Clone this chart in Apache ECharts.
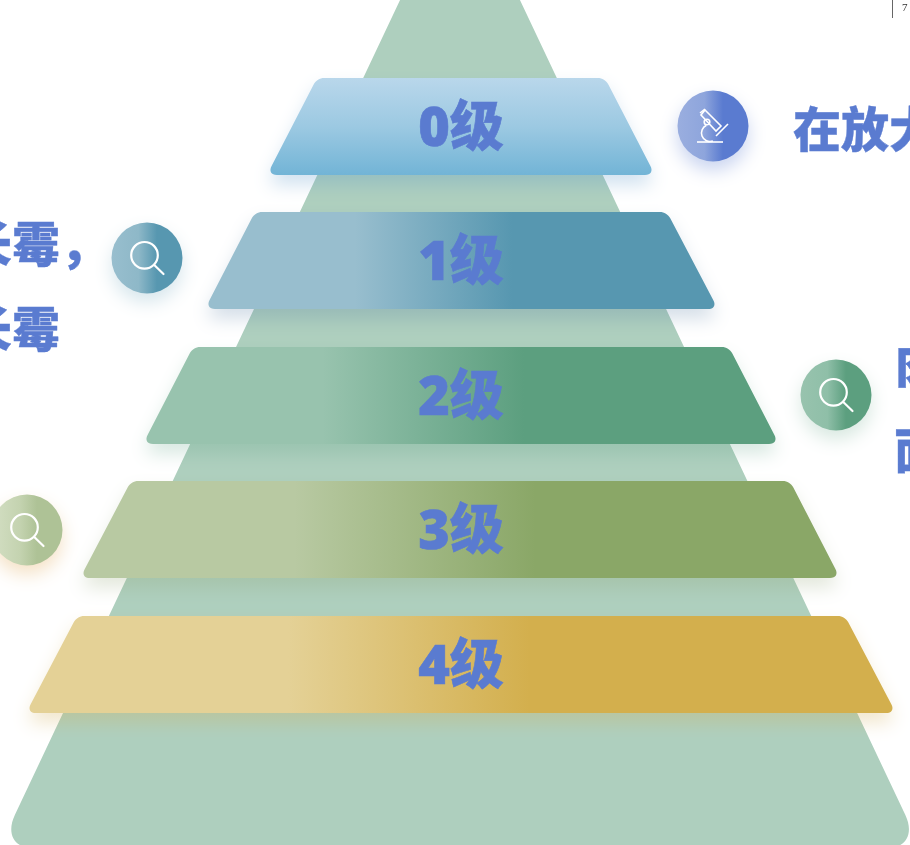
<!DOCTYPE html>
<html><head><meta charset="utf-8">
<style>html,body{margin:0;padding:0;background:#fff;overflow:hidden}#c{width:910px;height:845px}</style>
<script src="https://cdn.jsdelivr.net/npm/echarts@6/dist/echarts.min.js"></script></head>
<body><div id="c"></div>
<script>
// Pyramid tiers, read in page units
const levelNames = ['0级','1级','2级','3级','4级'];
const tierLeftTop = [317,255,193,131,77];
const tierRightTop = [605,667,729,790,845];
const tierLeftBottom = [267,205,143,80,26];
const tierRightBottom = [655,718,779,840,896];
const tierTop = [78,212,347,481,616];
const tierBottom = [175,309,444,578,713];
// Backdrop trapezoid
const backdropY = [-2,849];
const backdropLeft = [401,-1.3];
const backdropRight = [519,921.5];
// Round badges
const badgeKinds = ['scope','lens','lens','lens'];
const badgeX = [713,147,836,27];
const badgeY = [126,258,395,530];
// Side notes (clipped by the page edge as in the reference)
const noteTexts = ['在放大','长霉，','长霉','肉','面'];
const noteX = [793,-36,-36,895,894];
const noteY = [129,244,329,365,450];

const BLUE = '#5a7bd0', FONT = '"Open Sans","Noto Sans CJK SC",sans-serif';
const tierFill = [
  null,
  [[0,'#98bece'],[.29,'#98bece'],[.6,'#5797b0'],[1,'#5797b0']],
  [[0,'#98c3ae'],[.28,'#98c3ae'],[.6,'#5c9f7f'],[1,'#5c9f7f']],
  [[0,'#b8c9a2'],[.28,'#b8c9a2'],[.6,'#8aa767'],[1,'#8aa767']],
  [[0,'#e4d196'],[.3,'#e4d196'],[.58,'#d3af4d'],[1,'#d3af4d']]
];
const tierShadow = ['rgba(90,150,200,.28)','rgba(80,120,160,.24)','rgba(90,160,130,.24)','rgba(140,160,110,.24)','rgba(210,175,90,.3)'];
const badgeFill = [
  [[0,'#9aaedf'],[.38,'#8ea5dc'],[.64,'#5a7bd0'],[1,'#5a7bd0']],
  [[0,'#98bece'],[.38,'#8eb8c8'],[.64,'#5797b0'],[1,'#5797b0']],
  [[0,'#98c3ae'],[.38,'#8fbfa8'],[.64,'#5c9f7f'],[1,'#5c9f7f']],
  [[0,'#d4dfc4'],[.4,'#c4d3b0'],[.64,'#aec296'],[1,'#aec296']]
];
const badgeShadow = ['rgba(90,123,208,.32)','rgba(87,151,176,.24)','rgba(92,159,127,.24)','rgba(225,170,90,.34)'];

function toward(p,q,r){
  const dx=q[0]-p[0],dy=q[1]-p[1],l=Math.hypot(dx,dy)||1;
  return [p[0]+dx/l*r,p[1]+dy/l*r];
}
echarts.graphic.registerShape('trap', echarts.graphic.extendShape({
  type:'trap',
  shape:{lt:0,rt:0,lb:0,rb:0,t:0,b:0,rTop:0,rBottom:0},
  buildPath(ctx,s){
    const P=[[s.lt,s.t],[s.rt,s.t],[s.rb,s.b],[s.lb,s.b]];
    const R=[s.rTop,s.rTop,s.rBottom,s.rBottom], k=.58;
    P.forEach((c,i)=>{
      const a=toward(c,P[(i+3)%4],R[i]),b=toward(c,P[(i+1)%4],R[i]);
      if(i===0)ctx.moveTo(a[0],a[1]);else ctx.lineTo(a[0],a[1]);
      ctx.bezierCurveTo(a[0]+(c[0]-a[0])*k,a[1]+(c[1]-a[1])*k,b[0]+(c[0]-b[0])*k,b[1]+(c[1]-b[1])*k,b[0],b[1]);
    });
    ctx.closePath();
  }
}));

function grad(stops,v){
  const cs=stops.map(s=>({offset:s[0],color:s[1]}));
  return new echarts.graphic.LinearGradient(0,0,v?0:1,v?1:0,cs);
}
function pt(api,x,y){return api.coord([x,y]);}

function lensIcon(){
  const st={stroke:'#fff',lineWidth:2.2,fill:'none'};
  return [
    {type:'circle',shape:{cx:-2.5,cy:-2.7,r:13.3},style:st},
    {type:'line',shape:{x1:7,y1:6.8,x2:16.5,y2:16},style:Object.assign({lineCap:'round'},st)}
  ];
}
function scopeIcon(){
  const st={stroke:'#fff',lineWidth:1.6,fill:'none'};
  return [
    {type:'polygon',shape:{points:[[-8,-16],[8,0],[3,5],[-12,-11]]},style:st},
    {type:'line',shape:{x1:-13,y1:-13,x2:-8,y2:-17},style:st},
    {type:'line',shape:{x1:15,y1:-2,x2:3,y2:10},style:st},
    {type:'line',shape:{x1:-16,y1:16,x2:10,y2:16},style:st},
    {type:'circle',shape:{cx:-6,cy:-4,r:2.8},style:st},
    {type:'arc',shape:{cx:-3,cy:7,r:8.5,startAngle:70*Math.PI/180,endAngle:245*Math.PI/180,clockwise:true},style:st}
  ];
}

const xA={type:'value',min:0,max:910,show:false};
const yA={type:'value',min:0,max:845,inverse:true,show:false};

const option={
  animation:false,
  backgroundColor:'#fff',
  grid:{left:0,right:0,top:0,bottom:0},
  xAxis:xA,yAxis:yA,
  series:[
    {type:'custom',coordinateSystem:'cartesian2d',silent:true,clip:false,z:1,
     data:[[backdropLeft[0],backdropRight[0],backdropLeft[1],backdropRight[1],backdropY[0],backdropY[1]]],
     renderItem(p,api){
       const a=pt(api,api.value(0),api.value(4)),b=pt(api,api.value(1),api.value(4));
       const c=pt(api,api.value(2),api.value(5)),d=pt(api,api.value(3),api.value(5));
       return {type:'trap',shape:{lt:a[0],rt:b[0],lb:c[0],rb:d[0],t:a[1],b:c[1],rTop:0,rBottom:38},style:{fill:'#aecfbe'}};
     }},
    {type:'custom',coordinateSystem:'cartesian2d',silent:true,clip:false,z:2,
     data:levelNames.map((n,i)=>[tierLeftTop[i],tierRightTop[i],tierLeftBottom[i],tierRightBottom[i],tierTop[i],tierBottom[i],i]),
     renderItem(p,api){
       const i=api.value(6);
       const a=pt(api,api.value(0),api.value(4)),b=pt(api,api.value(1),api.value(4));
       const c=pt(api,api.value(2),api.value(5)),d=pt(api,api.value(3),api.value(5));
       const fill=i===0?new echarts.graphic.LinearGradient(0,0,0,1,[{offset:0,color:'#b9d7eb'},{offset:.5,color:'#9cc9e2'},{offset:1,color:'#72b4d6'}]):grad(tierFill[i],false);
       return {type:'group',children:[
         {type:'trap',shape:{lt:a[0],rt:b[0],lb:c[0],rb:d[0],t:a[1],b:c[1],rTop:7,rBottom:10},
          style:{fill,shadowColor:tierShadow[i],shadowBlur:18,shadowOffsetY:10}},
         {type:'text',x:461,y:a[1]+53,z2:5,
          style:{text:levelNames[i],fill:BLUE,stroke:BLUE,lineWidth:.6,font:'800 54px '+FONT,
            align:'center',verticalAlign:'middle',textAlign:'center',textVerticalAlign:'middle'}}
       ]};
     }},
    {type:'custom',coordinateSystem:'cartesian2d',silent:true,clip:false,z:3,
     data:badgeX.map((x,i)=>[x,badgeY[i],i]),
     renderItem(p,api){
       const i=api.value(2),c=pt(api,api.value(0),api.value(1));
       return {type:'group',x:c[0],y:c[1],children:[
         {type:'circle',shape:{cx:0,cy:0,r:35.5},style:{fill:grad(badgeFill[i],false),shadowColor:badgeShadow[i],shadowBlur:18,shadowOffsetY:9}}
       ].concat(badgeKinds[i]==='scope'?scopeIcon():lensIcon())};
     }},
    {type:'custom',coordinateSystem:'cartesian2d',silent:true,clip:false,z:4,
     data:noteX.map((x,i)=>[x,noteY[i],i]),
     renderItem(p,api){
       const i=api.value(2),c=pt(api,api.value(0),api.value(1));
       return {type:'text',x:c[0],y:c[1],
         style:{text:noteTexts[i],fill:BLUE,stroke:BLUE,lineWidth:.4,font:'900 48px "Noto Sans CJK SC",sans-serif',
           align:'left',verticalAlign:'middle',textAlign:'left',textVerticalAlign:'middle'}};
     }}
  ],
  graphic:[
    {type:'line',shape:{x1:892.5,y1:0,x2:892.5,y2:18},style:{stroke:'#666',lineWidth:1},z:20},
    {type:'text',x:902,y:3,z:20,style:{text:'7',fill:'#333',font:'11px "Liberation Serif",serif'}}
  ]
};
echarts.init(document.getElementById('c'),null,{renderer:'canvas'}).setOption(option);
</script></body></html>
